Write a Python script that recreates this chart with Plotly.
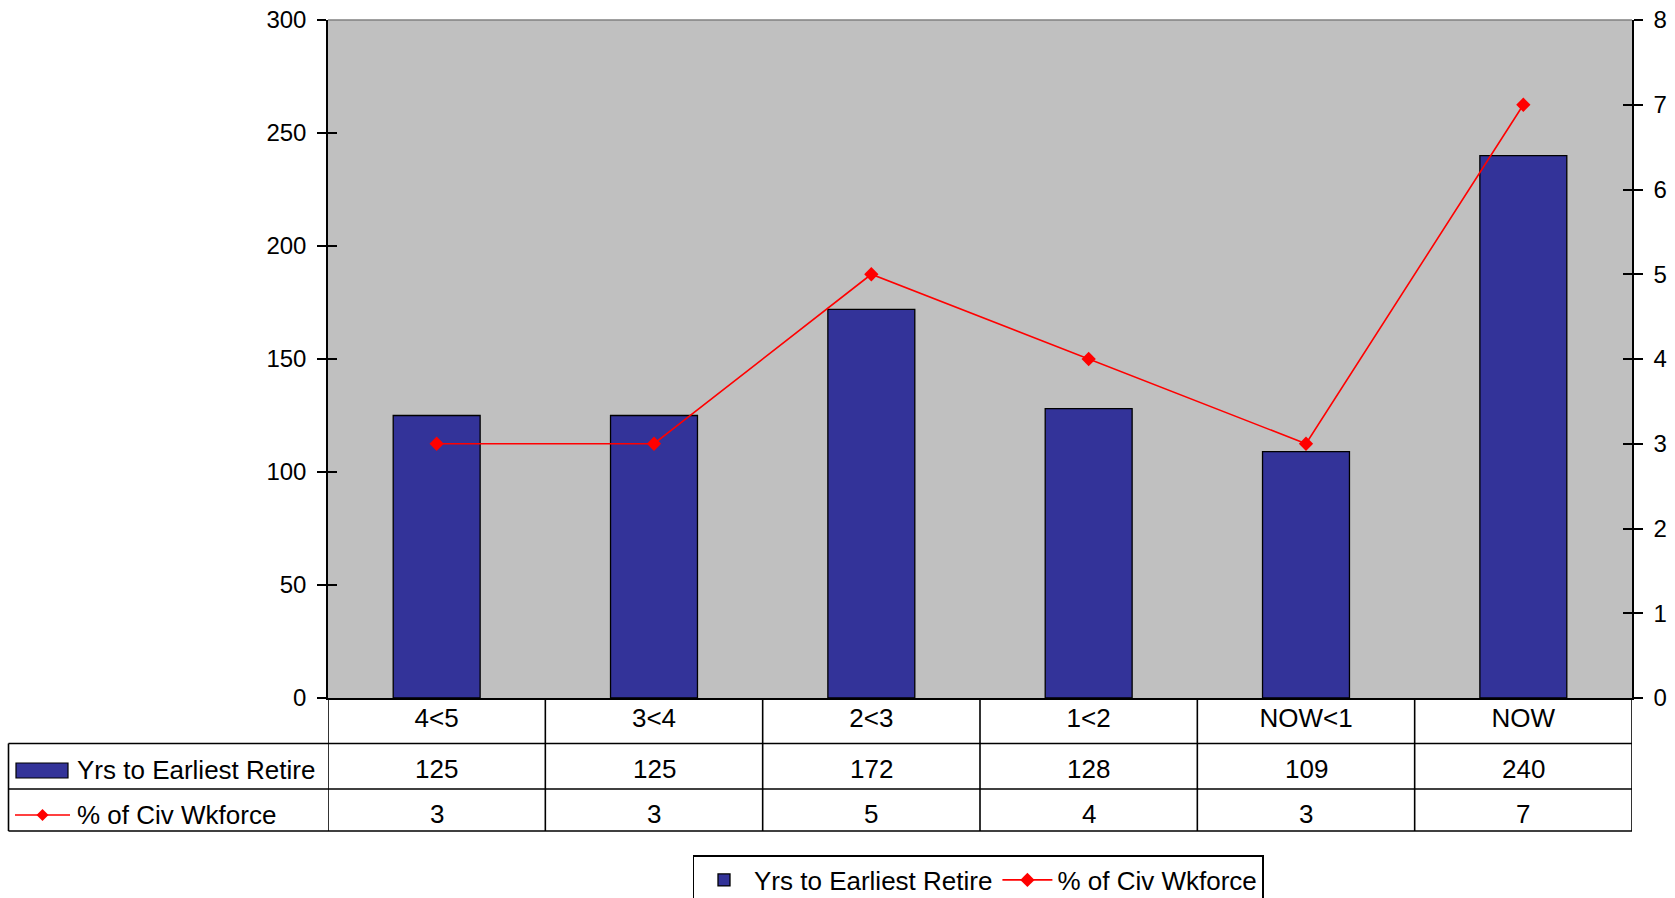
import plotly.graph_objects as go

categories = ["4<5", "3<4", "2<3", "1<2", "NOW<1", "NOW"]
yrs_to_retire = [125, 125, 172, 128, 109, 240]
pct_civ_wkforce = [3, 3, 5, 4, 3, 7]
bar_name = "Yrs to Earliest Retire"
line_name = "% of Civ Wkforce"

W, H = 1675, 898
L, R, T, B = 328, 43, 20, 200
PH = H - T - B
PW = W - L - R
FONT = "Liberation Sans, Arial, sans-serif"
FS = 24
FT = 26


def py(pix):
    return (H - B - pix) / PH


def px(pix):
    return (pix - L) / PW


fig = go.Figure()
fig.add_trace(go.Bar(x=categories, y=yrs_to_retire, name=bar_name,
                     marker=dict(color="#333399", line=dict(color="black", width=1.3)),
                     yaxis="y"))
fig.add_trace(go.Scatter(x=categories, y=pct_civ_wkforce, name=line_name, mode="lines+markers",
                         line=dict(color="#FF0000", width=1.6),
                         marker=dict(symbol="diamond", size=11, color="#FF0000"),
                         yaxis="y2"))
# helper traces so the inner-tick overlay axes render
fig.add_trace(go.Scatter(x=categories, y=yrs_to_retire, yaxis="y3", mode="lines",
                         line=dict(width=0), opacity=0, showlegend=False, hoverinfo="skip"))
fig.add_trace(go.Scatter(x=categories, y=pct_civ_wkforce, yaxis="y4", mode="lines",
                         line=dict(width=0), opacity=0, showlegend=False, hoverinfo="skip"))

shapes = []
lw = 1.6
# horizontal table lines
for yy in [743.5, 789, 831]:
    shapes.append(dict(type="line", xref="paper", yref="paper", x0=px(8.5), x1=1,
                       y0=py(yy), y1=py(yy), line=dict(color="black", width=lw)))
# vertical column lines
for i in range(len(categories) + 1):
    shapes.append(dict(type="line", xref="x", yref="paper", x0=i - 0.5, x1=i - 0.5,
                       y0=0, y1=py(831), line=dict(color="black", width=lw)))
shapes.append(dict(type="line", xref="paper", yref="paper", x0=px(8.5), x1=px(8.5),
                   y0=py(743.5), y1=py(831), line=dict(color="black", width=lw)))
# top border of plot area (grey)
shapes.append(dict(type="line", xref="paper", yref="paper", x0=0, x1=1, y0=1, y1=1,
                   line=dict(color="#808080", width=1.5)))
# legend keys inside table
shapes.append(dict(type="rect", xref="paper", yref="paper", x0=px(16), x1=px(68),
                   y0=py(778), y1=py(763), fillcolor="#333399", line=dict(color="black", width=1.2)))
shapes.append(dict(type="line", xref="paper", yref="paper", x0=px(15), x1=px(70),
                   y0=py(815), y1=py(815), line=dict(color="#FF0000", width=1.6)))
shapes.append(dict(type="path", xref="paper", yref="paper",
                   path=f"M {px(42.5)},{py(809)} L {px(48.5)},{py(815)} L {px(42.5)},{py(821)} L {px(36.5)},{py(815)} Z",
                   fillcolor="#FF0000", line=dict(color="#FF0000", width=0)))

annotations = []
for i, c in enumerate(categories):
    annotations.append(dict(x=c, xref="x", y=py(769), yref="paper", yanchor="middle",
                            text=str(yrs_to_retire[i]),
                            showarrow=False, font=dict(family=FONT, size=FT, color="black")))
    annotations.append(dict(x=c, xref="x", y=py(814), yref="paper", yanchor="middle",
                            text=str(pct_civ_wkforce[i]),
                            showarrow=False, font=dict(family=FONT, size=FT, color="black")))
annotations.append(dict(x=px(75), xref="paper", xanchor="left", y=py(770), yref="paper",
                        yanchor="middle", text=bar_name, showarrow=False,
                        font=dict(family=FONT, size=FT, color="black")))
annotations.append(dict(x=px(75), xref="paper", xanchor="left", y=py(815), yref="paper",
                        yanchor="middle", text=line_name, showarrow=False,
                        font=dict(family=FONT, size=FT, color="black")))

common_y = dict(showgrid=False, zeroline=False, ticklen=9, tickwidth=1.5, tickcolor="black",
                linecolor="black", linewidth=1.5, showline=True,
                tickfont=dict(family=FONT, size=FS, color="black"))

fig.update_layout(
    width=W, height=H,
    margin=dict(l=L, r=R, t=T, b=B, autoexpand=False),
    paper_bgcolor="white", plot_bgcolor="#C0C0C0",
    bargap=0.6,
    font=dict(family=FONT, size=FS, color="black"),
    xaxis=dict(showgrid=False, zeroline=False, showline=True, linecolor="black", linewidth=1.6,
               ticks="", ticklabelstandoff=-4, tickfont=dict(family=FONT, size=FT, color="black"),
               range=[-0.5, 5.5]),
    yaxis=dict(range=[0, 300], dtick=50, ticks="outside", ticklabelstandoff=6, **common_y),
    yaxis2=dict(range=[0, 8], dtick=1, ticks="outside", overlaying="y", side="right",
                ticklabelstandoff=6, **common_y),
    yaxis3=dict(range=[0, 300], dtick=50, ticks="inside", overlaying="y", side="left",
                showticklabels=False, showgrid=False, zeroline=False, ticklen=9, tickwidth=1.5,
                tickcolor="black", showline=False),
    yaxis4=dict(range=[0, 8], dtick=1, ticks="inside", overlaying="y", side="right",
                showticklabels=False, showgrid=False, zeroline=False, ticklen=9, tickwidth=1.5,
                tickcolor="black", showline=False),
    legend=dict(orientation="h", x=px(978), xanchor="center", y=py(855), yanchor="top",
                bordercolor="black", borderwidth=1.5, bgcolor="white",
                font=dict(family=FONT, size=FT, color="black"), itemwidth=50),
    shapes=shapes, annotations=annotations, showlegend=True,
)

fig.write_html("out.html")
